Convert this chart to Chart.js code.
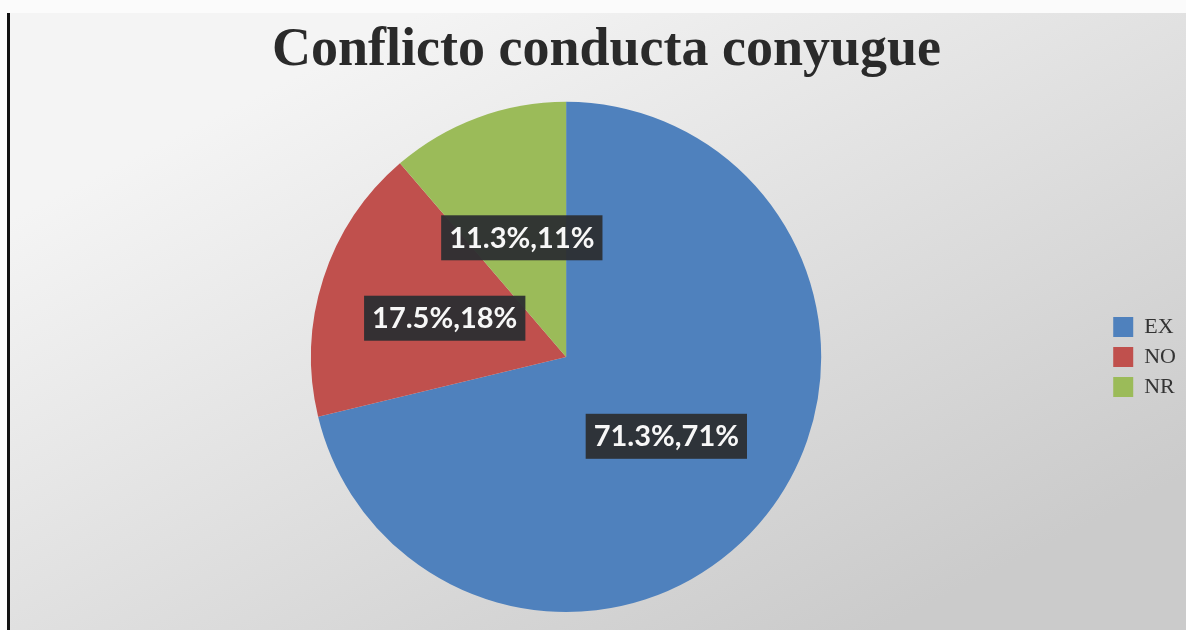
<!DOCTYPE html>
<html>
<head>
<meta charset="utf-8">
<title>Conflicto conducta conyugue</title>
<script src="https://cdn.jsdelivr.net/npm/chart.js@4"></script>
<style>
  html, body { margin: 0; padding: 0; background: #fff; }
  #chart { display: block; }
</style>
</head>
<body>
<canvas id="chart" width="1186" height="630"></canvas>
<script>
const categories = ['EX', 'NO', 'NR'];
const percentValues = [71.3, 17.5, 11.3];
const roundedValues = [71, 18, 11];
const sliceColors = ['#4f81bd', '#c0504d', '#9bbb59'];

// gray frame behind the chart, like the slide it was taken from
const backgroundPlugin = {
  id: 'slideBackground',
  beforeDraw: (chart) => {
    const ctx = chart.ctx
    const w = chart.width
    const h = chart.height
    ctx.save()
    ctx.fillStyle = '#fbfbfb'
    ctx.fillRect(0, 0, w, h)
    const grad = ctx.createLinearGradient(420, 13, 760, h + 60)
    grad.addColorStop(0, '#f4f4f4')
    grad.addColorStop(1, '#cbcbcb')
    ctx.fillStyle = grad
    ctx.fillRect(10, 13, w - 10, h - 13)
    ctx.fillStyle = '#111'
    ctx.fillRect(7, 13, 3, h - 13)
    ctx.restore()
  }
}

const sliceLabels = {
  id: 'sliceLabels',
  afterDatasetsDraw: (chart) => {
    const ctx = chart.ctx
    const meta = chart.getDatasetMeta(0)
    ctx.save()
    ctx.font = 'bold 29px Lato'
    ctx.textAlign = 'center'
    ctx.textBaseline = 'middle'
    meta.data.forEach((arc, i) => {
      const pos = arc.getCenterPoint()
      const text = `${percentValues[i]}%,${roundedValues[i]}%`
      const tw = ctx.measureText(text).width
      ctx.fillStyle = 'rgba(44, 46, 50, 0.95)'
      ctx.fillRect(pos.x - tw / 2 - 8, pos.y - 22, tw + 16, 45)
      ctx.fillStyle = '#f7f7f7'
      ctx.fillText(text, pos.x, pos.y + 1)
    })
    ctx.restore()
  }
}

new Chart(document.querySelector('#chart'), {
  type: 'pie',
  data: {
    labels: categories,
    datasets: [{
      data: percentValues,
      backgroundColor: sliceColors,
      borderWidth: 0
    }]
  },
  options: {
    responsive: false,
    animation: false,
    devicePixelRatio: 1,
    layout: {
      padding: { left: 27, right: 0, top: 0, bottom: 18 }
    },
    plugins: {
      title: {
        display: true,
        text: 'Conflicto conducta conyugue',
        color: '#2a2a2a',
        font: { family: 'Liberation Serif', size: 54, weight: 'bold', lineHeight: 1.2 },
        padding: { top: 19, bottom: 18 }
      },
      legend: {
        position: 'right',
        fullSize: false,
        labels: {
          boxWidth: 20,
          boxHeight: 20,
          padding: 8,
          color: '#333',
          font: { family: 'Liberation Serif', size: 22 }
        }
      },
      tooltip: { enabled: false }
    }
  },
  plugins: [backgroundPlugin, sliceLabels]
})
</script>
</body>
</html>
